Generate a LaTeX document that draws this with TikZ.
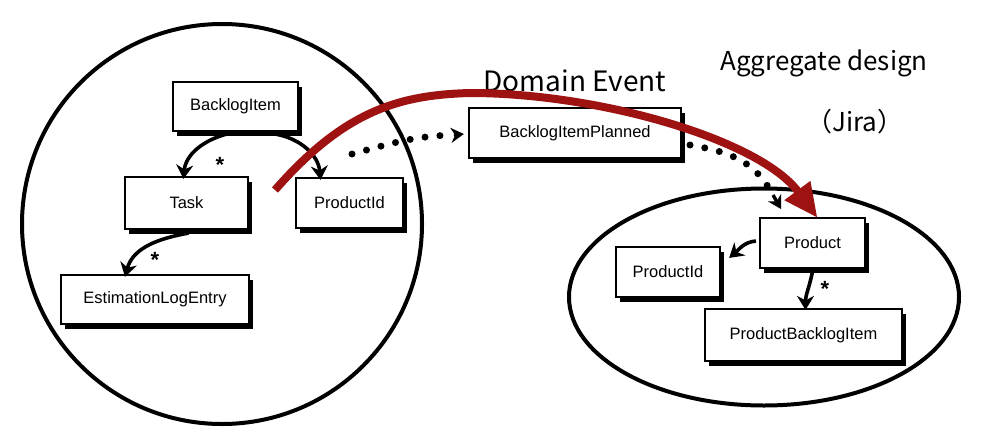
\documentclass[tikz,border=0pt]{standalone}
\usepackage{fontspec}
\setmainfont{Liberation Sans}
\newfontfamily\cjk{Noto Sans CJK SC}
\usetikzlibrary{arrows.meta,shadows,shapes.geometric}
\definecolor{evred}{RGB}{158,18,18}
\begin{document}
\begin{tikzpicture}[x=1pt,y=-1pt,
  ent/.style={draw=black,line width=2.2pt,fill=white,inner sep=0pt,
    font=\fontsize{16.5}{18}\selectfont,
    drop shadow={shadow xshift=4pt,shadow yshift=-5pt,fill=black,opacity=1}},
  arr/.style={line width=3.6pt,-{Stealth[length=14pt,width=17pt]}},
  dots/.style={line width=7pt,line cap=round,dash pattern=on 0pt off 15pt},
  star/.style={font=\fontsize{22}{22}\selectfont\bfseries,inner sep=0pt},
  head/.style={font=\cjk\fontsize{26}{30}\selectfont,inner sep=0pt}]
\useasboundingbox (0,0) rectangle (995,434);
\fill[white] (0,0) rectangle (995,434);
% containers
\node[draw,circle,line width=4pt,minimum size=400pt,inner sep=0pt] (left) at (222,224) {};
\node[draw,ellipse,line width=4pt,minimum width=390pt,minimum height=217pt,inner sep=0pt] (right) at (764,297) {};
% entities
\node[ent,minimum width=125pt,minimum height=49pt] (bi) at (235.5,106.5) {BacklogItem};
\node[ent,minimum width=123pt,minimum height=52pt] (task) at (186.5,203) {Task};
\node[ent,minimum width=107pt,minimum height=50pt] (pidl) at (349.5,203) {ProductId};
\node[ent,minimum width=188pt,minimum height=49pt] (ele) at (155,299.5) {EstimationLogEntry};
\node[ent,minimum width=212pt,minimum height=50pt] (bip) at (575,133) {BacklogItemPlanned};
\node[ent,minimum width=105pt,minimum height=50pt] (prod) at (812.5,243) {Product};
\node[ent,minimum width=104pt,minimum height=50pt] (pidr) at (668,272) {ProductId};
\node[ent,minimum width=197pt,minimum height=52pt] (pbi) at (803.5,335) {ProductBacklogItem};
% headings
\node[head,font=\cjk\fontsize{28}{32}\selectfont] (de) at (575,81) {Domain Event};
\node[head] (ag) at (824,63) {Aggregate design};
\node[head] (jira) at (855,122) {（Jira）};
% associations
\draw[arr] ([xshift=-9pt,yshift=-2pt]bi.south) to[out=195,in=85] ([xshift=-3pt,yshift=-3pt]task.north);
\draw[arr] ([xshift=40pt,yshift=-2pt]bi.south) to[out=-10,in=95] ([xshift=-29pt,yshift=-3pt]pidl.north);
\draw[arr] ([xshift=2pt,yshift=-3pt]task.south) to[out=190,in=75] ([xshift=-30pt,yshift=-3pt]ele.north);
\draw[arr] ([xshift=-3pt,yshift=2pt]prod.west) to[out=185,in=40] ([xshift=8pt,yshift=-12pt]pidr.north east);
\draw[arr] ([yshift=-2pt]prod.south) to[out=260,in=90] ([xshift=2pt,yshift=-2pt]pbi.north);
\node[star] (s1) at (220,165) {*};
\node[star] (s2) at (155,260) {*};
\node[star] (s3) at (825,289) {*};
% domain event flow
\coordinate (d1) at (352,154);
\draw[dots] (d1) to[out=15,in=182] ([xshift=-16pt,yshift=-2pt]bip.west);
\draw[line width=3.4pt,-{Stealth[length=13pt,width=15pt]}] ([xshift=-14pt,yshift=-2pt]bip.west) -- ([xshift=-4pt,yshift=-1pt]bip.west);
\coordinate (d2) at (690,145);
\draw[dots] (d2) to[out=-10,in=120] (770,190);
\draw[line width=3.4pt,-{Stealth[length=13pt,width=15pt]}] (773,195) -- (781,209);
% red arrow
\coordinate (rs) at (275,190);
\draw[evred,line width=8pt,-{Triangle[length=34pt,width=30pt]}]
  (rs) .. controls (345,110) and (400,95) .. (470,93)
  .. controls (600,93) and (760,140) .. ([xshift=5pt,yshift=-1pt]prod.north);
\end{tikzpicture}
\end{document}
